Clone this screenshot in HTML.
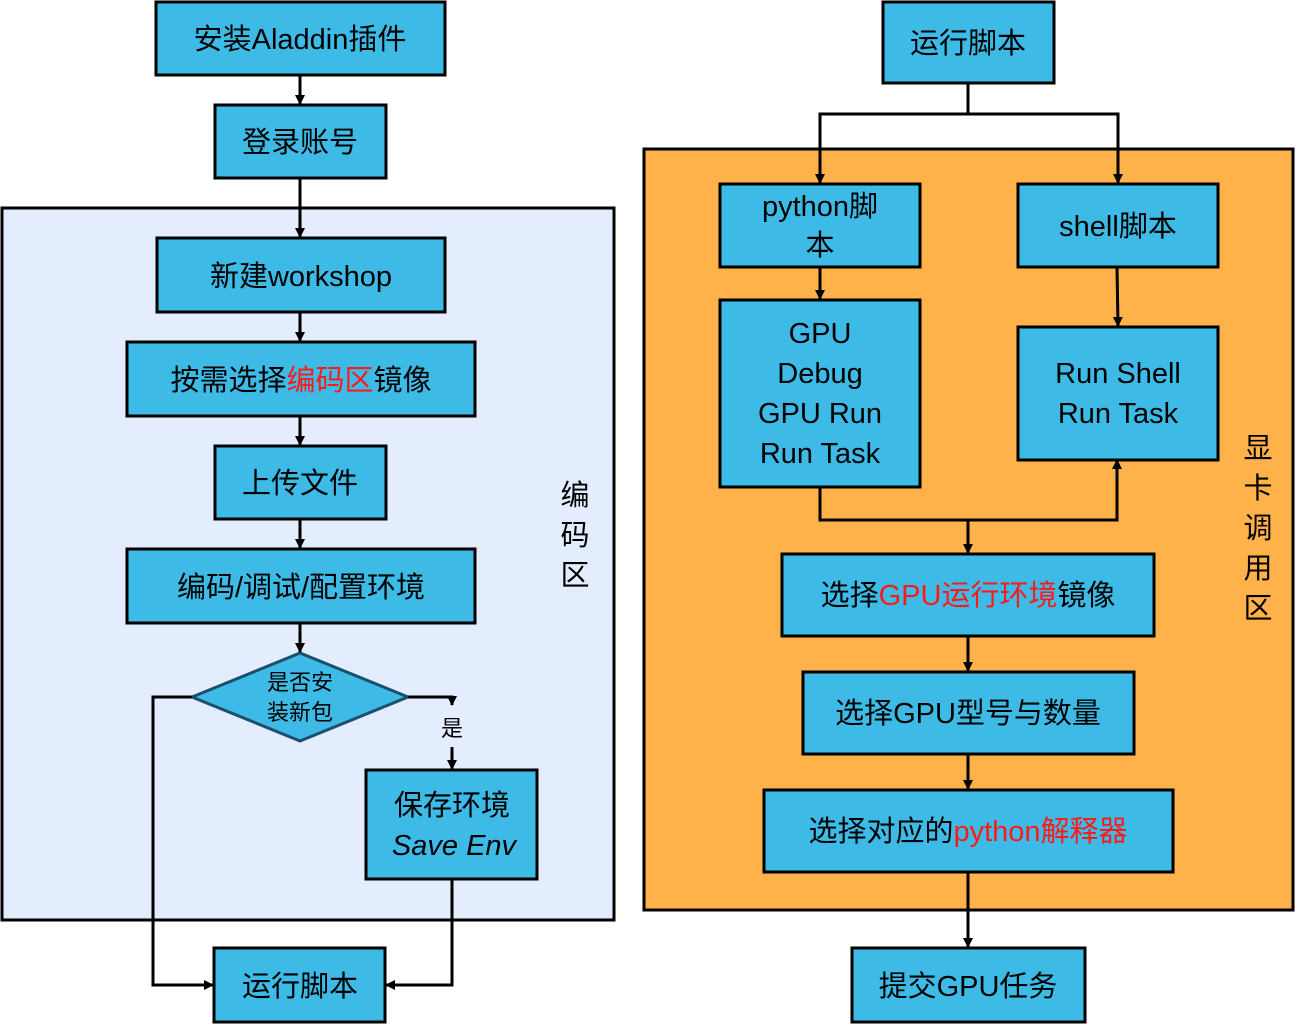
<!DOCTYPE html>
<html><head><meta charset="utf-8"><style>
html,body{margin:0;padding:0;background:#fff;}
svg text{font-family:"Liberation Sans","Noto Sans CJK SC",sans-serif;fill:#000;}
</style></head><body>
<svg width="1297" height="1024" viewBox="0 0 1297 1024" xmlns="http://www.w3.org/2000/svg">
<defs>
<marker id="a" markerWidth="10" markerHeight="10" refX="9" refY="5" orient="auto" markerUnits="userSpaceOnUse">
<path d="M0,0 L10,5 L0,10 z" fill="#000"/></marker>
</defs>
<!-- panels -->
<rect x="2" y="208" width="612" height="712" fill="#e3edfd" stroke="#000" stroke-width="3"/>
<rect x="644" y="149" width="649" height="761" fill="#ffb24a" stroke="#000" stroke-width="3"/>
<g fill="#3dbbe6" stroke="#000" stroke-width="3">
<rect x="156" y="2" width="289" height="73"/>
<rect x="215" y="105" width="171" height="73"/>
<rect x="157" y="238" width="288" height="74"/>
<rect x="127" y="342" width="348" height="74"/>
<rect x="215" y="446" width="171" height="73"/>
<rect x="127" y="549" width="348" height="74"/>
<rect x="366" y="770" width="171" height="109"/>
<rect x="214" y="948" width="171" height="74"/>
<rect x="883" y="2" width="171" height="81"/>
<rect x="720" y="184" width="200" height="83"/>
<rect x="1018" y="184" width="200" height="83"/>
<rect x="720" y="300" width="200" height="187"/>
<rect x="1018" y="327" width="200" height="133"/>
<rect x="782" y="554" width="372" height="82"/>
<rect x="803" y="672" width="331" height="82"/>
<rect x="764" y="790" width="409" height="82"/>
<rect x="852" y="948" width="233" height="74"/>
</g>
<polygon points="192,697 300,653 408,697 300,741" fill="#3dbbe6" stroke="#1c4f6b" stroke-width="3"/>
<!-- connectors -->
<g stroke="#000" stroke-width="3" fill="none" marker-end="url(#a)">
<line x1="300" y1="75" x2="300" y2="104"/>
<line x1="300" y1="178" x2="300" y2="237"/>
<line x1="300" y1="312" x2="300" y2="341"/>
<line x1="300" y1="416" x2="300" y2="445"/>
<line x1="300" y1="519" x2="300" y2="548"/>
<line x1="300" y1="623" x2="300" y2="652"/>
<polyline points="408,697 452,697 452,705"/>
<line x1="452" y1="747" x2="452" y2="769" />
<polyline points="192,697 153,697 153,985 213,985"/>
<polyline points="452,879 452,985 386,985"/>
<polyline points="968,83 968,114 820,114 820,183"/>
<polyline points="968,114 1118,114 1118,183"/>
<line x1="820" y1="267" x2="820" y2="299"/>
<line x1="1117" y1="267" x2="1118" y2="326"/>
<polyline points="820,487 820,520 1117,520 1117,460"/>
<line x1="968" y1="520" x2="968" y2="553"/>
<line x1="968" y1="636" x2="968" y2="671"/>
<line x1="968" y1="754" x2="968" y2="789"/>
<line x1="968" y1="872" x2="968" y2="947"/>
</g>
<line x1="452" y1="697" x2="452" y2="705" stroke="#000" stroke-width="3"/>
<!-- text -->
<g font-size="29" text-anchor="middle">
<text x="300" y="49">安装Aladdin插件</text>
<text x="300" y="152">登录账号</text>
<text x="301" y="286">新建workshop</text>
<text x="301" y="390">按需选择<tspan fill="#ff1a1a" style="fill:#ff1a1a">编码区</tspan>镜像</text>
<text x="300" y="493">上传文件</text>
<text x="301" y="597">编码/调试/配置环境</text>
<text x="452" y="815">保存环境</text>
<text x="454" y="855" font-style="italic">Save Env</text>
<text x="300" y="996">运行脚本</text>
<text x="968" y="53">运行脚本</text>
<text x="820" y="216">python脚</text>
<text x="820" y="255">本</text>
<text x="1118" y="236">shell脚本</text>
<text x="820" y="343">GPU</text>
<text x="820" y="383">Debug</text>
<text x="820" y="423">GPU Run</text>
<text x="820" y="463">Run Task</text>
<text x="1118" y="383">Run Shell</text>
<text x="1118" y="423">Run Task</text>
<text x="968" y="605">选择<tspan style="fill:#ff1a1a">GPU运行环境</tspan>镜像</text>
<text x="968" y="723">选择GPU型号与数量</text>
<text x="968" y="841">选择对应的<tspan style="fill:#ff1a1a">python解释器</tspan></text>
<text x="968" y="996">提交GPU任务</text>
<text x="575" y="505">编</text>
<text x="575" y="545">码</text>
<text x="575" y="585">区</text>
<text x="1258" y="458">显</text>
<text x="1258" y="498">卡</text>
<text x="1258" y="538">调</text>
<text x="1258" y="578">用</text>
<text x="1258" y="618">区</text>
</g>
<g font-size="22" text-anchor="middle">
<text x="300" y="690">是否安</text>
<text x="300" y="720">装新包</text>
<text x="452" y="736">是</text>
</g>
</svg>
</body></html>
